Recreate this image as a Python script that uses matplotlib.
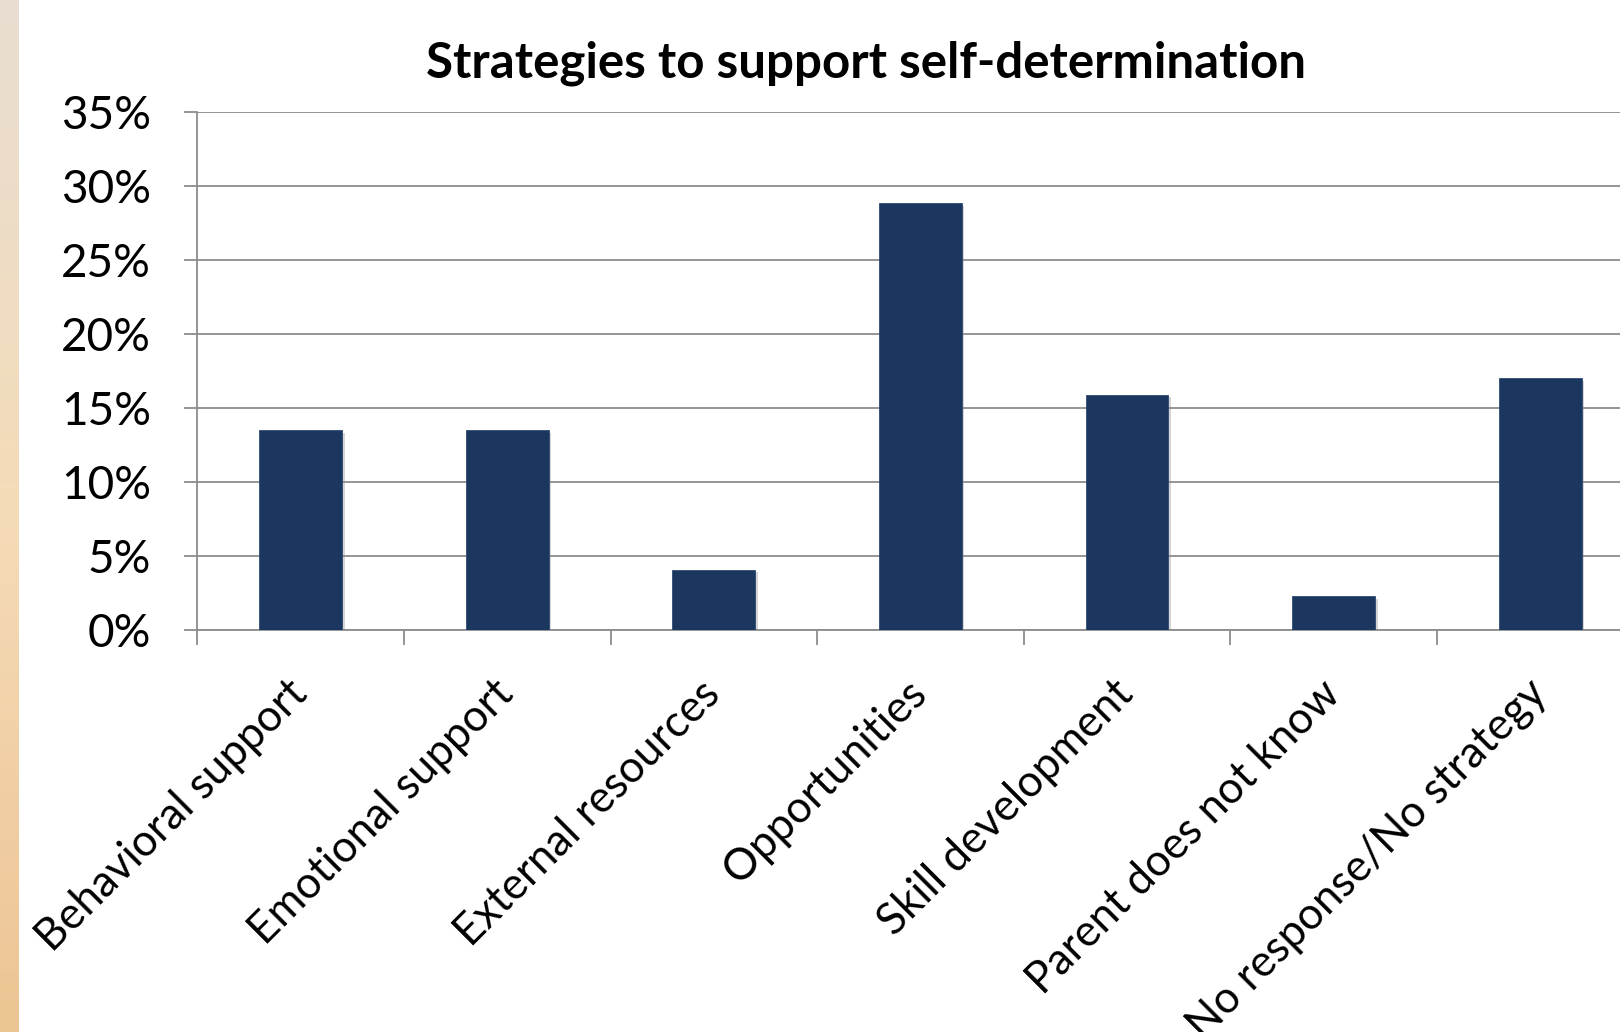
import numpy as np
import matplotlib
matplotlib.use("Agg")
import matplotlib.pyplot as plt
from matplotlib.ticker import FuncFormatter, FixedLocator
import matplotlib.patheffects as pe

categories = ["Behavioral support", "Emotional support", "External resources",
              "Opportunities", "Skill development", "Parent does not know",
              "No response/No strategy"]
values = [13.5, 13.5, 4.1, 28.8, 15.9, 2.3, 17.0]
yticks = [0, 5, 10, 15, 20, 25, 30, 35]
title = "Strategies to support self-determination"

plt.rcParams['font.family'] = ['Lato', 'DejaVu Sans']

W, H = 1620, 1032
fig = plt.figure(figsize=(W / 100, H / 100), dpi=100)
fig.patch.set_facecolor('white')

# left decorative gradient strip
sax = fig.add_axes([0, 0, 19 / W, 1])
grad = np.linspace(0, 1, 256)[:, None]
top = np.array([0.91, 0.87, 0.82])
mid = np.array([0.96, 0.86, 0.72])
bot = np.array([0.93, 0.77, 0.58])
cols = np.where(grad[..., None] < 0.5,
                top + (mid - top) * (grad[..., None] / 0.5),
                mid + (bot - mid) * ((grad[..., None] - 0.5) / 0.5))
sax.imshow(cols, aspect='auto', extent=[0, 1, 1, 0])
sax.axis('off')

left = 197.3 / W
right = (197.3 + 7 * 206.6) / W
bottom = 1 - 630.3 / H
topf = 1 - 111.6 / H
ax = fig.add_axes([left, bottom, right - left, topf - bottom])

x = np.arange(len(categories))
bars = ax.bar(x, values, width=0.4, color='#1b3760', zorder=3,
              edgecolor='#2d4a72', linewidth=0.6)
for b in bars:
    b.set_path_effects([pe.SimplePatchShadow(offset=(2, -2), shadow_rgbFace='#888888', alpha=0.35),
                        pe.Normal()])

ax.set_xlim(-0.5, len(categories) - 0.5)
ax.set_ylim(0, 35)
ax.set_yticks(yticks)
ax.yaxis.set_major_formatter(FuncFormatter(lambda v, p: f"{int(v)}%"))
ax.yaxis.grid(True, color='#8c8c8c', linewidth=1.3, zorder=0)
ax.set_axisbelow(True)

ax.set_xticks(x)
ax.set_xticklabels(categories, rotation=45, ha='right', va='center',
                   rotation_mode='anchor')
ax.xaxis.set_minor_locator(FixedLocator(np.arange(-0.5, len(categories), 1.0)))
ax.tick_params(axis='x', which='major', length=0, pad=41, labelsize=31.5)
ax.tick_params(axis='x', which='minor', length=11, width=1.3, color='#8c8c8c',
               direction='out')
ax.tick_params(axis='y', which='major', length=9.5, width=1.3, color='#8c8c8c',
               pad=24, labelsize=33, direction='out')

for s in ['top', 'right']:
    ax.spines[s].set_visible(False)
for s in ['left', 'bottom']:
    ax.spines[s].set_color('#8c8c8c')
    ax.spines[s].set_linewidth(1.3)

fig.text(866 / W, 1 - 77.5 / H, title, ha='center', va='baseline',
         fontsize=35.5, fontweight='bold')

fig.savefig('out.png', dpi=100, facecolor='white')
